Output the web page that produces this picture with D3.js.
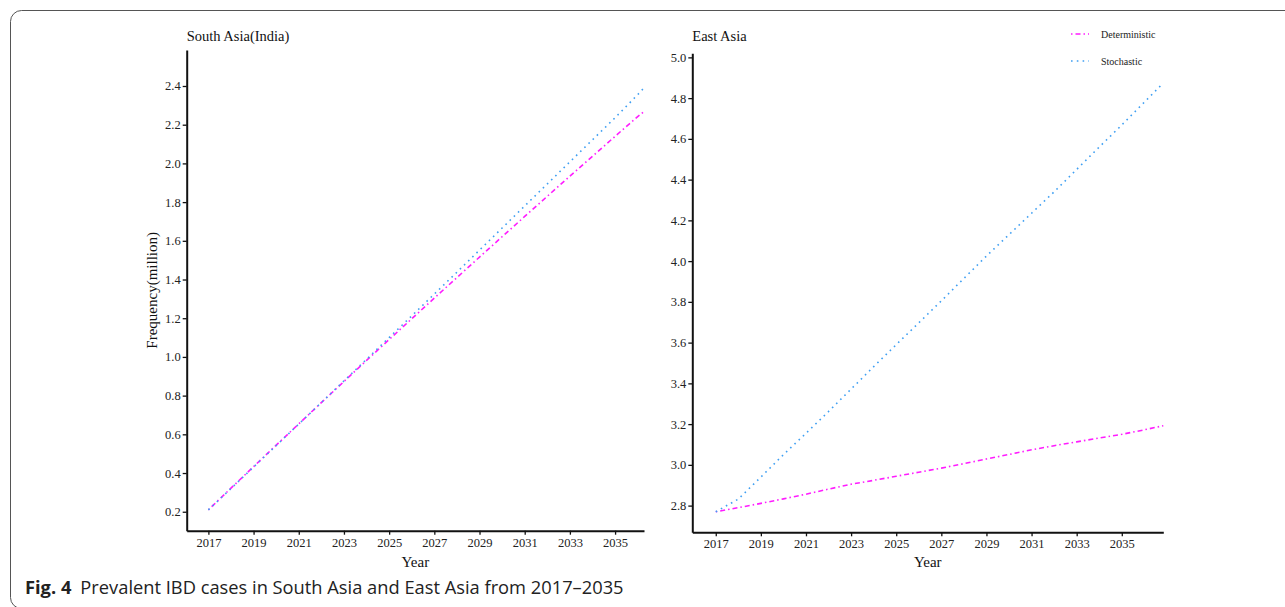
<!DOCTYPE html>
<html>
<head>
<meta charset="utf-8">
<script src="https://cdn.jsdelivr.net/npm/d3@7"></script>
<style>
  html, body { margin: 0; padding: 0; background: #fff; }
  svg { display: block; }
  .tick text { font-family: "Liberation Serif", "Times New Roman", serif; font-size: 12.5px; fill: #222; }
  .axis path, .axis line { stroke: #111; }
</style>
</head>
<body>
<div id="chart"></div>
<script>
// years of the projection (last point is where the curves leave the panel)
const yearsSouth = [2017, 2018, 2019, 2020, 2021, 2022, 2023, 2024, 2025, 2026, 2027,
  2028, 2029, 2030, 2031, 2032, 2033, 2034, 2035, 2036, 2036.28];
const yearsEast = [2017, 2018, 2019, 2020, 2021, 2022, 2023, 2024, 2025, 2026, 2027,
  2028, 2029, 2030, 2031, 2032, 2033, 2034, 2035, 2036, 2036.84];

// South Asia (India), million
const southDeterministic = [0.210, 0.322, 0.433, 0.544, 0.654, 0.764, 0.873, 0.982, 1.090, 1.197, 1.304,
  1.410, 1.516, 1.621, 1.726, 1.830, 1.934, 2.037, 2.140, 2.242, 2.268];
const southStochastic = [0.210, 0.320, 0.431, 0.542, 0.653, 0.764, 0.876, 0.988, 1.100, 1.212, 1.325,
  1.438, 1.552, 1.666, 1.780, 1.894, 2.008, 2.122, 2.236, 2.355, 2.390];

// East Asia, million
const eastDeterministic = [2.770, 2.790, 2.811, 2.833, 2.856, 2.881, 2.905, 2.924, 2.944, 2.964, 2.984,
  3.006, 3.029, 3.051, 3.074, 3.094, 3.113, 3.132, 3.150, 3.172, 3.192];
const eastStochastic = [2.770, 2.832, 2.940, 3.050, 3.155, 3.262, 3.372, 3.482, 3.590, 3.697, 3.805,
  3.915, 4.025, 4.130, 4.235, 4.340, 4.450, 4.560, 4.668, 4.780, 4.874];

const xTicks = [2017, 2019, 2021, 2023, 2025, 2027, 2029, 2031, 2033, 2035];
const southYTicks = [0.2, 0.4, 0.6, 0.8, 1.0, 1.2, 1.4, 1.6, 1.8, 2.0, 2.2, 2.4];
const eastYTicks = [2.8, 3.0, 3.2, 3.4, 3.6, 3.8, 4.0, 4.2, 4.4, 4.6, 4.8, 5.0];

const seriesNames = ['Deterministic', 'Stochastic'];
const caption = 'Prevalent IBD cases in South Asia and East Asia from 2017\u20132035';

const W = 1285, H = 607;
const serif = '"Liberation Serif", "Times New Roman", serif';
const styles = {
  Deterministic: { color: '#ff1cff', dash: '1.5,3,5,3' },
  Stochastic: { color: '#3f9ff2', dash: '1.6,4.2' }
};

const svg = d3.select('#chart').append('svg')
  .attr('width', W)
  .attr('height', H);

// rounded figure frame, running off the right and bottom edges
svg.append('rect')
  .attr('x', 10.5).attr('y', 10.5)
  .attr('width', 1320).attr('height', 598)
  .attr('rx', 11).attr('ry', 11)
  .attr('fill', 'none')
  .attr('stroke', '#555')
  .attr('stroke-width', 1);

const panels = [
  {
    title: 'South Asia(India)', years: yearsSouth,
    values: { Deterministic: southDeterministic, Stochastic: southStochastic },
    xDomain: [2016.04, 2036.28], xRange: [186.7, 644],
    yDomain: [0.102, 2.586], yRange: [530.7, 50],
    yTicks: southYTicks, yTitle: 'Frequency(million)'
  },
  {
    title: 'East Asia', years: yearsEast,
    values: { Deterministic: eastDeterministic, Stochastic: eastStochastic },
    xDomain: [2015.96, 2036.84], xRange: [692.3, 1163.3],
    yDomain: [2.669, 5.02], yRange: [532.3, 53.3],
    yTicks: eastYTicks, yTitle: null
  }
];

panels.forEach(p => {
  const x = d3.scaleLinear().domain(p.xDomain).range(p.xRange);
  const y = d3.scaleLinear().domain(p.yDomain).range(p.yRange);
  const g = svg.append('g');

  // lines first so the axes sit on top
  seriesNames.forEach(name => {
    const pts = p.years.map((yr, i) => [yr, p.values[name][i]]);
    g.append('path')
      .datum(pts)
      .attr('fill', 'none')
      .attr('stroke', styles[name].color)
      .attr('stroke-width', 1.6)
      .attr('stroke-dasharray', styles[name].dash)
      .attr('d', d3.line().x(d => x(d[0])).y(d => y(d[1])));
  });

  const xAxis = g.append('g')
    .attr('class', 'axis')
    .attr('transform', `translate(0,${p.yRange[0]})`)
    .call(d3.axisBottom(x).tickValues(xTicks).tickFormat(d3.format('d'))
      .tickSizeInner(4).tickSizeOuter(0).tickPadding(3));
  xAxis.select('.domain').attr('stroke-width', 2);
  xAxis.selectAll('.tick line').attr('stroke-width', 1.3);

  const yAxis = g.append('g')
    .attr('class', 'axis')
    .attr('transform', `translate(${p.xRange[0]},0)`)
    .call(d3.axisLeft(y).tickValues(p.yTicks).tickFormat(d3.format('.1f'))
      .tickSizeInner(4).tickSizeOuter(0).tickPadding(2));
  yAxis.select('.domain').attr('stroke-width', 2);
  yAxis.selectAll('.tick line').attr('stroke-width', 1.3);

  g.append('text')
    .attr('x', p.xRange[0])
    .attr('y', 41)
    .attr('font-family', serif)
    .attr('font-size', 14.5)
    .attr('fill', '#111')
    .text(p.title);

  g.append('text')
    .attr('x', (p.xRange[0] + p.xRange[1]) / 2)
    .attr('y', 567)
    .attr('text-anchor', 'middle')
    .attr('font-family', serif)
    .attr('font-size', 15)
    .attr('fill', '#111')
    .text('Year');

  if (p.yTitle) {
    g.append('text')
      .attr('transform', `translate(157,${(p.yRange[0] + p.yRange[1]) / 2}) rotate(-90)`)
      .attr('text-anchor', 'middle')
      .attr('font-family', serif)
      .attr('font-size', 15)
      .attr('fill', '#111')
      .text(p.yTitle);
  }
});

// legend, top right of the East Asia panel
const legend = svg.append('g').attr('transform', 'translate(1071,0)');
seriesNames.forEach((name, i) => {
  const ly = 34 + i * 27;
  legend.append('line')
    .attr('x1', 0).attr('x2', 18)
    .attr('y1', ly).attr('y2', ly)
    .attr('stroke', styles[name].color)
    .attr('stroke-width', 1.6)
    .attr('stroke-dasharray', styles[name].dash);
  legend.append('text')
    .attr('x', 30).attr('y', ly + 3.5)
    .attr('font-family', serif)
    .attr('font-size', 10)
    .attr('fill', '#222')
    .text(name);
});

// figure caption
const cap = svg.append('text')
  .attr('x', 25).attr('y', 594)
  .attr('font-family', '"Open Sans", "Noto Sans", sans-serif')
  .attr('font-size', 18.3)
  .attr('fill', '#222');
cap.append('tspan').attr('font-weight', 'bold').text('Fig. 4');
cap.append('tspan').attr('dx', 9).text(caption);
</script>
</body>
</html>
